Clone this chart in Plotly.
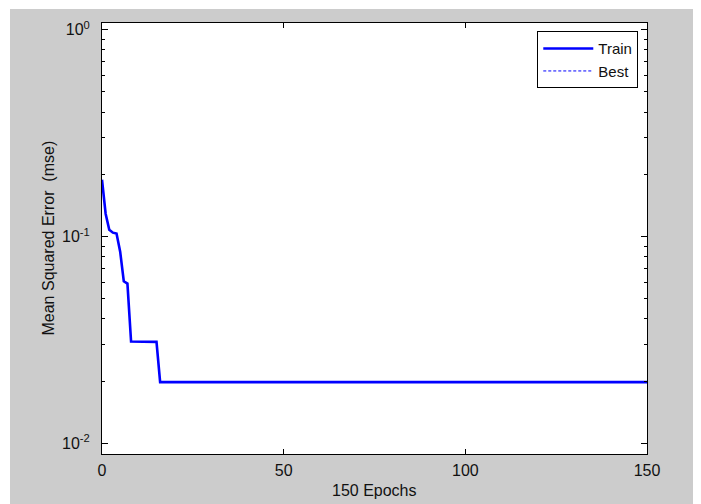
import plotly.graph_objects as go

# ---- data ----
train_epochs = [0, 1, 2, 3, 4, 5, 6, 7, 8, 15, 16, 150]
train_mse = [0.1885, 0.129, 0.108, 0.1045, 0.1034, 0.0846, 0.0608, 0.0593, 0.0311, 0.0310, 0.0198, 0.0198]

best_epoch = [150]
best_mse = [0.0198]

x_tickvals = [0, 50, 100, 150]
y_major_vals = [0.01, 0.1, 1]
y_major_text = ["10<sup>-2</sup>", "10<sup>-1</sup>", "10<sup>0</sup>"]
y_minor_vals = [0.02, 0.03, 0.04, 0.05, 0.06, 0.07, 0.08, 0.09,
                0.2, 0.3, 0.4, 0.5, 0.6, 0.7, 0.8, 0.9]

x_title = "150 Epochs"
y_title = "Mean Squared Error \u00a0(mse)"

FONT = "Liberation Sans, Arial, Helvetica, sans-serif"
TXT = "#111111"

fig = go.Figure()
fig.add_trace(go.Scatter(
    x=train_epochs, y=train_mse, mode="lines", name="Train",
    line=dict(color="#0000ff", width=2.6),
))
fig.add_trace(go.Scatter(
    x=best_epoch, y=best_mse, mode="lines", name="Best",
    line=dict(color="#0000ff", width=1, dash="3px,2px"),
))

fig.update_layout(
    width=693, height=496,
    margin=dict(l=94, r=54, t=15, b=50),
    paper_bgcolor="#cccccc",
    plot_bgcolor="#ffffff",
    font=dict(family=FONT, size=16, color=TXT),
    showlegend=True,
    legend=dict(
        x=0.984, y=0.981, xanchor="right", yanchor="top",
        bgcolor="#ffffff", bordercolor="#000000", borderwidth=1,
        font=dict(family=FONT, size=15, color=TXT),
        itemwidth=50,
    ),
    xaxis=dict(
        range=[0, 150], tickmode="array", tickvals=x_tickvals,
        showline=True, linecolor="#000000", linewidth=1, mirror="ticks",
        ticks="inside", ticklen=5, tickcolor="#000000", tickwidth=1,
        showgrid=False, zeroline=False,
        tickfont=dict(family=FONT, size=16, color=TXT),
        ticklabelstandoff=2,
    ),
    yaxis=dict(
        type="log", range=[-2.0507, 0.0324],
        tickmode="array", tickvals=y_major_vals, ticktext=y_major_text,
        showline=True, linecolor="#000000", linewidth=1, mirror="ticks",
        ticks="inside", ticklen=6, tickcolor="#000000", tickwidth=1,
        minor=dict(tickmode="array", tickvals=y_minor_vals, ticks="inside",
                   ticklen=3, tickcolor="#000000", tickwidth=1, showgrid=False),
        showgrid=False, zeroline=False,
        tickfont=dict(family=FONT, size=16, color=TXT),
        ticklabelstandoff=8,
    ),
    shapes=[
        # thin white strips at the top and left edges of the capture
        dict(type="rect", xref="paper", yref="paper", x0=-0.3, x1=1.3,
             y0=1.0325, y1=1.3, fillcolor="#ffffff", line=dict(width=0), layer="below"),
        dict(type="rect", xref="paper", yref="paper", x0=-0.3, x1=-0.1688,
             y0=-0.3, y1=1.3, fillcolor="#ffffff", line=dict(width=0), layer="below"),
    ],
    annotations=[
        dict(text=x_title, xref="paper", yref="paper", x=0.5, y=0,
             xanchor="center", yanchor="middle", yshift=-36, showarrow=False,
             font=dict(family=FONT, size=16, color=TXT)),
        dict(text=y_title, xref="paper", yref="paper", x=0, y=0.5,
             xanchor="center", yanchor="middle", xshift=-54, textangle=-90,
             showarrow=False, font=dict(family=FONT, size=16, color=TXT)),
    ],
)

fig.write_html("out.html")
